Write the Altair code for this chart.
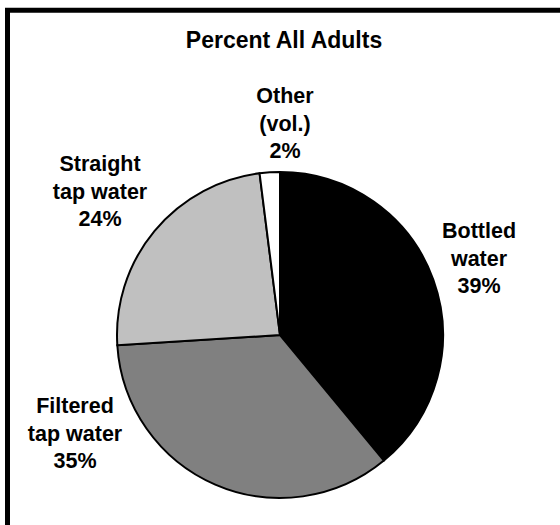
import altair as alt
import pandas as pd

# Survey shares, clockwise from 12 o'clock
categories = ["Bottled water", "Filtered tap water", "Straight tap water", "Other (vol.)"]
label_lines = [["Bottled", "water"], ["Filtered", "tap water"], ["Straight", "tap water"], ["Other", "(vol.)"]]
percents = [39, 35, 24, 2]
slice_colors = ["#000000", "#808080", "#c0c0c0", "#ffffff"]
title_text = "Percent All Adults"

# Layout (pixels); label anchors give the centre of each label's first line
W, H = 560, 525
CX, CY, R = 280, 335, 163
label_anchor = {
    "Bottled water": (479, 232),
    "Filtered tap water": (75, 407),
    "Straight tap water": (100, 165),
    "Other (vol.)": (285, 97),
}
FONT = "Liberation Sans"

df = pd.DataFrame({
    "cat": categories,
    "pct": percents,
    "idx": list(range(len(categories))),
    "label": ["\n".join(lines + [f"{p}%"]) for lines, p in zip(label_lines, percents)],
})
df["lx"] = [label_anchor[c][0] for c in categories]
df["ly"] = [label_anchor[c][1] for c in categories]

pie = alt.Chart(df).mark_arc(outerRadius=R, stroke="black", strokeWidth=2).encode(
    theta=alt.Theta("pct:Q", stack=True),
    color=alt.Color("cat:N", scale=alt.Scale(domain=categories, range=slice_colors), legend=None),
    order=alt.Order("idx:Q"),
    x=alt.value(CX),
    y=alt.value(CY),
)

labels = alt.Chart(df).mark_text(
    font=FONT, fontSize=21.5, fontWeight="bold", color="black",
    lineBreak="\n", lineHeight=27.5, align="center", baseline="middle",
).encode(
    x=alt.X("lx:Q", scale=None),
    y=alt.Y("ly:Q", scale=None),
    text="label:N",
)

title = alt.Chart(pd.DataFrame({"t": [title_text]})).mark_text(
    font=FONT, fontSize=23, fontWeight="bold", color="black",
    align="center", baseline="middle",
).encode(x=alt.value(284), y=alt.value(41), text="t:N")

frame_df = pd.DataFrame({"k": [0]})
top_edge = alt.Chart(frame_df).mark_rule(color="black", strokeWidth=5).encode(
    x=alt.value(5), x2=alt.value(W), y=alt.value(10.3)
)
left_edge = alt.Chart(frame_df).mark_rule(color="black", strokeWidth=5).encode(
    x=alt.value(7.5), y=alt.value(8), y2=alt.value(H)
)

chart = alt.layer(pie, labels, title, top_edge, left_edge).properties(
    width=W, height=H, padding=0, autosize="none", background="white"
).configure_view(strokeWidth=0)

chart.save("out.html", embed_options={"renderer": "svg", "actions": False})
